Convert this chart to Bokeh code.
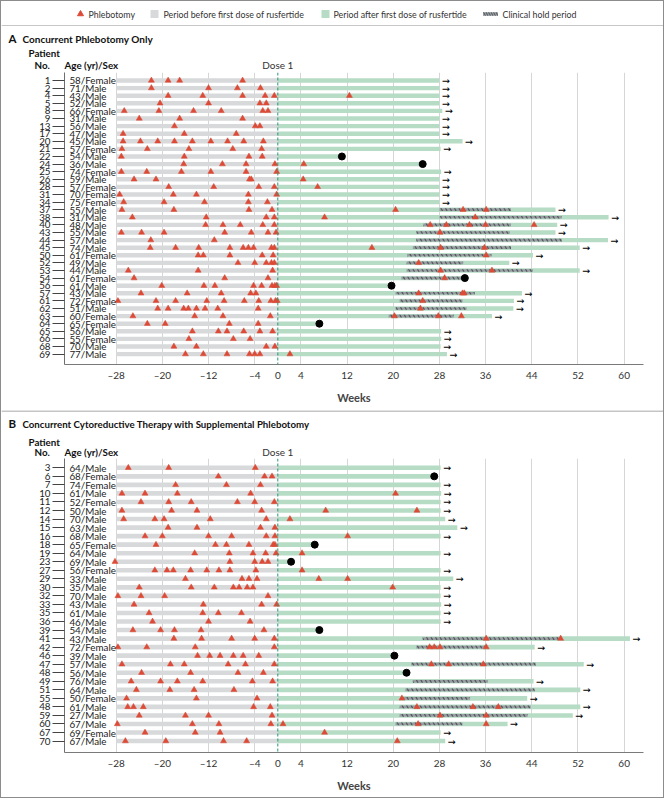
from bokeh.plotting import figure
from bokeh.models import Range1d, FixedTicker, Span
from bokeh.layouts import column
from bokeh.embed import file_html
from bokeh.resources import INLINE
from bokeh.core.properties import value

# ---------------- data ----------------
TICKS = [-28, -20, -12, -4, 0, 4, 12, 20, 28, 36, 44, 52, 60]
TICK_LABELS = ["–28", "–20", "–12", "–4", "0", "4", "12", "20", "28", "36", "44", "52", "60"]
PRE_START = -28
DOSE1 = 0

LEGEND_LABELS = ["Phlebotomy", "Period before first dose of rusfertide",
                 "Period after first dose of rusfertide", "Clinical hold period"]

A_patient = [1, 2, 4, 5, 8, 9, 13, 17, 20, 21, 22, 24, 25, 26, 28, 31, 34, 37, 38, 40,
             43, 44, 45, 50, 52, 53, 54, 56, 57, 61, 62, 63, 64, 65, 66, 68, 69]
A_agesex = ["58/Female", "71/Male", "43/Male", "52/Male", "66/Female", "31/Male", "56/Male",
            "47/Male", "45/Male", "57/Female", "54/Male", "36/Male", "74/Female", "59/Male",
            "57/Female", "70/Female", "75/Female", "55/Male", "31/Male", "48/Male", "55/Male",
            "57/Male", "74/Male", "61/Female", "49/Male", "44/Male", "61/Female", "61/Male",
            "43/Male", "72/Female", "51/Male", "60/Female", "65/Female", "56/Male", "55/Female",
            "70/Male", "77/Male"]
A_end = [28.0, 28.0, 28.0, 28.0, 28.5, 28.0, 28.0, 28.0, 32.0, 28.2,
         11.1, 25.1, 28.3, 28.0, 28.0, 28.0, 28.0, 48.1, 57.3, 48.4,
         48.1, 57.2, 52.3, 44.2, 40.1, 52.3, 32.4, 19.7, 42.3, 40.9,
         40.8, 37.1, 7.2, 28.3, 28.3, 28.2, 29.3]
A_ongoing = [1, 1, 1, 1, 1, 1, 1, 1, 1, 1,
             0, 0, 1, 1, 1, 1, 1, 1, 1, 1,
             1, 1, 1, 1, 1, 1, 0, 0, 1, 1,
             1, 1, 0, 1, 1, 1, 1]
A_hold_start = [None, None, None, None, None, None, None, None, None, None,
                None, None, None, None, None, None, None, 28.0, 28.0, 25.2,
                24.0, 24.0, 23.4, 22.4, 22.3, 22.3, 21.4, None, 20.4, 21.1,
                20.4, 19.2, None, None, None, None, None]
A_hold_end = [None, None, None, None, None, None, None, None, None, None,
              None, None, None, None, None, None, None, 40.4, 49.2, 40.4,
              40.2, 49.2, 40.4, 37.0, 32.1, 44.2, 32.4, None, 34.1, 32.0,
              32.7, 30.5, None, None, None, None, None]
A_phleb = [
    [-21.9, -19.0, -17.0, -6.1],
    [-21.9, -12.0, -7.0, -3.0],
    [-19.0, -13.0, -6.1, -2.2, -0.6, 12.4],
    [-20.4, -12.0, -3.1, -2.0],
    [-26.6, -20.6, -14.6, -9.8, -2.6, -1.7],
    [-24.0, -17.0, -6.1],
    [-17.9, -3.9, -3.1],
    [-26.8, -16.2, -7.2],
    [-26.8, -23.8, -20.8, -17.9, -14.8, -11.6, -8.7, -5.9, -2.5],
    [-27.0, -22.6, -15.4, -7.8, -2.8],
    [-27.1, -16.2, -5.0, -2.7],
    [-16.3, -9.6, -5.5, -0.5, 4.5],
    [-27.1, -22.7, -16.7, -11.6, -5.5, -0.2],
    [-24.9, -21.1, -4.9, -4.6, 4.4],
    [-18.9, -11.1, -3.3, -0.6, 6.9],
    [-27.4, -18.1, -14.1, -5.1, -0.2],
    [-26.7, -19.7, -12.7, -5.1, -1.8],
    [-27.0, -18.0, -5.0, -1.0, 20.4, 32.1, 36.1],
    [-25.2, -12.4, -2.0, -0.6, 8.1, 34.2],
    [-12.5, -9.5, -6.5, -2.6, -0.6, 26.4, 29.2, 33.2, 36.0, 44.4],
    [-27.1, -23.6, -19.7, -9.2, -4.6, -1.7, -0.3, 28.1],
    [-22.0, -11.0],
    [-22.1, -17.7, -13.7, -8.3, -6.0, -5.1, -4.2, -1.1, -0.6, 16.3, 28.2, 35.8],
    [-13.8, -12.9, -8.3, -2.7, -0.8, 36.1],
    [-6.9, -4.0, -2.0, -1.1, -0.6, 24.4],
    [-25.9, -13.8, -0.9, 28.2, 37.1],
    [-24.9, -9.2, -1.7, 28.9],
    [-20.1, -12.8, -10.9, -4.2, -2.8, -1.0, -0.5, -0.2],
    [-23.7, -15.7, -9.8, -4.7, -3.8, 24.4, 32.0, 32.3],
    [-27.7, -21.1, -17.7, -12.3, -9.3, -5.8, -3.3, -1.2, -0.4, -0.1, 25.1],
    [-20.8, -19.0, -16.3, -15.5, -14.1, -12.6, -10.4, -3.4, 24.7],
    [-25.1, -14.4, -9.5, -1.3, 20.2, 27.8, 31.8],
    [-22.6, -19.5, -8.4, -3.4],
    [-14.8, -10.3, -8.8, -5.9, -3.1, -0.9],
    [-15.4, -7.7, -4.8],
    [-18.0, -14.1, -2.0, -0.5],
    [-16.0, -12.9, -8.8, -4.9, -4.0, -3.1, 2.1],
]

B_patient = [3, 6, 7, 10, 11, 12, 14, 15, 16, 18, 19, 23, 27, 29, 30, 32, 33, 35, 36, 39,
             41, 42, 46, 47, 48, 49, 51, 55, 48, 59, 60, 67, 70]
B_agesex = ["64/Male", "68/Female", "74/Female", "61/Male", "52/Female", "50/Male", "70/Male",
            "63/Male", "68/Male", "65/Female", "64/Male", "69/Male", "56/Female", "33/Male",
            "35/Male", "70/Male", "43/Male", "61/Male", "46/Male", "54/Male", "43/Male",
            "72/Female", "39/Male", "57/Male", "56/Male", "76/Male", "64/Male", "50/Female",
            "61/Male", "27/Male", "67/Male", "69/Female", "67/Male"]
B_end = [28.2, 27.1, 28.2, 28.3, 28.2, 28.2, 29.0, 31.1, 28.2, 6.4,
         28.2, 2.3, 28.2, 30.4, 28.2, 28.2, 28.3, 28.2, 28.2, 7.2,
         61.0, 44.5, 20.2, 53.0, 22.3, 44.3, 52.4, 43.2, 52.4, 51.1,
         39.8, 28.2, 29.0]
B_ongoing = [1, 0, 1, 1, 1, 1, 1, 1, 1, 0,
             1, 0, 1, 1, 1, 1, 1, 1, 1, 0,
             1, 1, 0, 1, 0, 1, 1, 1, 1, 1,
             1, 1, 1]
B_hold_start = [None, None, None, None, None, None, None, None, None, None,
                None, None, None, None, None, None, None, None, None, None,
                25.1, 24.0, None, 23.1, None, 23.4, 22.1, 21.2, 21.1, 21.1,
                20.4, None, None]
B_hold_end = [None, None, None, None, None, None, None, None, None, None,
              None, None, None, None, None, None, None, None, None, None,
              49.1, 36.1, None, 44.7, None, 36.4, 44.5, 33.3, 43.8, 43.3,
              32.0, None, None]
B_phleb = [
    [-25.9, -18.9, -3.9],
    [-10.3, -2.3, -1.0],
    [-17.7, -8.9, -3.0],
    [-27.0, -23.0, -17.4, -4.7, 20.4],
    [-23.7, -18.9, -15.0, -7.0, -4.0, -0.6],
    [-27.0, -18.4, -14.0, -2.8, 8.3, 24.1],
    [-26.7, -21.3, -19.7, -11.7, -2.0, 2.1],
    [-19.0, -14.0, -3.0, -0.5],
    [-23.0, -20.0, -12.0, -8.0, -2.0, -0.5, 12.1],
    [-21.1, -10.8, -8.9, -5.0, -0.8, -0.5],
    [-14.4, -8.4, -4.3, -2.1, -0.3, 4.2],
    [-28.2, -8.3, -4.0, -2.7, -1.7],
    [-21.3, -19.2, -18.1, -15.1, -12.3, -10.2, -8.3, -3.8, 4.2],
    [-16.0, -6.2, -5.0, -3.6, 7.1, 12.1],
    [-24.0, -15.0, -11.0, -7.7, -6.7, -5.3, -4.3, 19.9],
    [-27.7, -23.7, -19.6, -1.7],
    [-24.9, -12.9, -2.8, -0.2],
    [-22.3, -13.0, -10.3, -6.3],
    [-21.7, -12.0, -4.8],
    [-25.1, -20.3, -17.9, -13.3, -2.4],
    [-18.0, -13.2, -8.0, -4.0, -0.6, 36.1, 49.0],
    [-27.7, -22.7, -14.3, -0.6, 26.3, 27.1, 28.1, 36.1],
    [-13.9, -11.8, -10.0, -7.7, -6.0, -3.3],
    [-27.0, -18.6, -16.2, -8.6, -5.6, -0.6, 26.6, 29.6, 35.6],
    [-23.6, -15.1, -6.9, -2.5],
    [-25.4, -20.3, -17.4, -13.0, -4.4, -0.9],
    [-24.5, -18.7, -14.5, -7.6],
    [-26.2, -14.1, -3.6, 21.5],
    [-26.0, -25.0, -23.3, -4.2, -1.3, 24.1, 33.8, 38.2],
    [-24.0, -16.0, -12.0, -1.0, 28.1, 36.1],
    [-27.8, -14.8, -10.2, -1.2, 0.9, 24.3, 36.1],
    [-23.0, -14.3, -10.0, 8.1],
    [-26.4, -19.4, -9.4, -5.4, 20.7],
]

# ---------------- style ----------------
FONT = "Lato"
W = 662
FL, FR = 63, 20
XMIN, XMAX = -36.95, 63.35
PXW = (W - FL - FR) / (XMAX - XMIN)
AGE_X = -36.1
GRAY = "#d7d9db"
GREEN = "#b6dcc6"
HOLD = "#979da1"
HATCH = "#50555a"
RED = "#dd4a36"
TEAL = "#2a9679"
TXT = "#222222"
LINE = "#8c8c8c"


def strip_fig(h):
    p = figure(width=W, height=h, x_range=Range1d(0, W), y_range=Range1d(h, 0),
               toolbar_location=None, output_backend="svg", title=None,
               min_border=0, min_border_left=0, min_border_right=0,
               min_border_top=0, min_border_bottom=0,
               x_axis_location=None, y_axis_location=None)
    try:
        p.frame_align = False
    except Exception:
        pass
    p.grid.visible = False
    p.outline_line_color = None
    p.background_fill_color = "white"
    return p


def add_text(p, x, y, t, size="10px", style="bold", align="left", color="#111111"):
    p.text(x=[x], y=[y], text=[t], text_font=value(FONT), text_font_size=size,
           text_font_style=style, text_align=align, text_baseline="middle", text_color=color)


def header(h, letter, title, ys, title_size):
    p = strip_fig(h)
    add_text(p, 7, ys[0], letter, size="11.5px")
    add_text(p, 21, ys[0], title, size=title_size)
    add_text(p, 27, ys[1], "Patient", size="9.8px")
    add_text(p, 33, ys[2], "No.", size="9.8px")
    add_text(p, FL, ys[2], "Age (yr)/Sex", size="9.8px")
    add_text(p, FL + (DOSE1 - XMIN) * PXW, ys[2], "Dose 1", size="10px", style="normal",
             align="center", color="#333333")
    return p


def panel(patient, agesex, end, ongoing, hold_s, hold_e, phleb, height, frame_h, pad_top, pad_bot, bh):
    n = len(patient)
    rows = list(range(n))
    p = figure(width=W, height=height, x_range=Range1d(XMIN, XMAX),
               y_range=Range1d(n - 1 + pad_bot, -pad_top),
               toolbar_location=None, output_backend="svg", title=None,
               min_border_left=FL, min_border_right=FR, min_border_top=0,
               min_border_bottom=height - frame_h)
    p.outline_line_color = None
    p.ygrid.visible = False
    p.xgrid.ticker = FixedTicker(ticks=[t for t in TICKS if t != DOSE1])
    p.xgrid.grid_line_color = "#d6d6d6"
    p.xgrid.grid_line_width = 1

    p.hbar(y=rows, left=PRE_START, right=DOSE1, height=bh, fill_color=GRAY, line_color=None)
    p.hbar(y=rows, left=DOSE1, right=end, height=bh, fill_color=GREEN, line_color=None)

    hy = [i for i in rows if hold_s[i] is not None]
    p.hbar(y=hy, left=[hold_s[i] for i in hy], right=[hold_e[i] for i in hy], height=bh * 0.6,
           fill_color=HOLD, line_color=None, hatch_pattern="\\", hatch_color=HATCH,
           hatch_scale=9, hatch_weight=1.2)

    px, py = [], []
    for i, lst in enumerate(phleb):
        for w in lst:
            px.append(w)
            py.append(i)
    p.scatter(x=px, y=py, marker="triangle", size=6, fill_color=RED, line_color=RED, line_width=0.5)

    di = [i for i in rows if not ongoing[i]]
    p.scatter(x=[end[i] for i in di], y=di, marker="circle", size=7, fill_color="black", line_color="black")

    ai = [i for i in rows if ongoing[i]]
    p.text(x=[end[i] + 0.4 for i in ai], y=ai, text=["→"] * len(ai), text_font=value("DejaVu Sans"),
           text_font_size="9.5px", text_baseline="middle", text_align="left", text_color="black")

    p.text(x=AGE_X, y=rows, text=agesex, text_font=value(FONT), text_font_size="9.8px",
           text_baseline="middle", text_align="left", text_color=TXT)

    p.add_layout(Span(location=DOSE1, dimension="height", line_color=TEAL, line_dash="3 2", line_width=1))

    xa = p.xaxis[0]
    xa.ticker = FixedTicker(ticks=TICKS)
    xa.major_label_overrides = dict(zip(TICKS, TICK_LABELS))
    xa.axis_label = "Weeks"
    xa.axis_label_text_font = FONT
    xa.axis_label_text_font_style = "bold"
    xa.axis_label_text_font_size = "11px"
    xa.axis_label_standoff = 7
    xa.major_label_text_font = FONT
    xa.major_label_text_font_size = "10px"
    xa.major_label_text_color = "#333333"
    xa.major_label_standoff = 4
    xa.major_tick_out = 0
    xa.major_tick_in = 0
    xa.major_tick_line_color = None
    xa.minor_tick_line_color = None
    xa.axis_line_color = "#7a7a7a"

    ya = p.yaxis[0]
    ya.ticker = FixedTicker(ticks=rows)
    ya.major_label_overrides = {i: str(v) for i, v in enumerate(patient)}
    ya.major_label_text_font = FONT
    ya.major_label_text_font_size = "9.8px"
    ya.major_label_text_color = TXT
    ya.major_label_standoff = 2
    ya.major_tick_out = 12
    ya.major_tick_in = 0
    ya.major_tick_line_color = "#444444"
    ya.minor_tick_line_color = None
    ya.axis_line_color = "#6e6e6e"
    return p


# ---------------- legend strip ----------------
LEG_H = 25
leg = strip_fig(LEG_H)
LY = 12.5
leg.scatter(x=[79], y=[LY], marker="triangle", size=6, fill_color=RED, line_color=RED)
leg.rect(x=[153], y=[LY], width=8, height=8, fill_color=GRAY, line_color=None)
leg.rect(x=[324], y=[LY], width=8, height=8, fill_color=GREEN, line_color=None)
leg.rect(x=[489], y=[LY], width=15, height=3.5, fill_color=HOLD, line_color=None,
         hatch_pattern="\\", hatch_color=HATCH, hatch_scale=5, hatch_weight=1)
leg.text(x=[87, 162, 332, 501], y=[LY] * 4, text=LEGEND_LABELS, text_font=value(FONT),
         text_font_size="8.8px", text_baseline="middle", text_align="left", text_color="#333333")
leg.segment(x0=[0], y0=[LEG_H - 0.5], x1=[W], y1=[LEG_H - 0.5], line_color=LINE, line_width=1)

hA = header(46, "A", "Concurrent Phlebotomy Only", [12.0, 26.0, 38.5], "10px")
pA = panel(A_patient, A_agesex, A_end, A_ongoing, A_hold_start, A_hold_end, A_phleb,
           height=338, frame_h=292, pad_top=1.05, pad_bot=1.37, bh=0.58)

hB = header(48, "B", "Concurrent Cytoreductive Therapy with Supplemental Phlebotomy", [13.0, 31.0, 41.5], "9.7px")
hB.segment(x0=[0], y0=[0.5], x1=[W], y1=[0.5], line_color=LINE, line_width=1)
pB = panel(B_patient, B_agesex, B_end, B_ongoing, B_hold_start, B_hold_end, B_phleb,
           height=339, frame_h=294, pad_top=1.09, pad_bot=1.34, bh=0.54)

layout = column(leg, hA, pA, hB, pB, spacing=0, styles={"border": "1px solid #8c8c8c"})
open("out.html", "w").write(file_html(layout, INLINE))
